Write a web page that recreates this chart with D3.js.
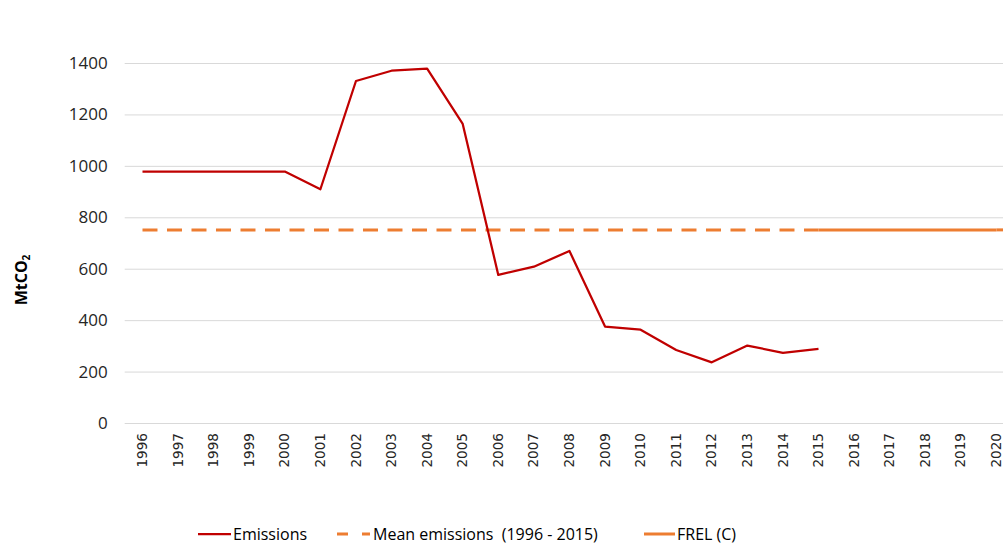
<!DOCTYPE html>
<html>
<head>
<meta charset="utf-8">
<script src="https://cdn.jsdelivr.net/npm/d3@7"></script>
<style>
  html, body { margin: 0; padding: 0; background: #fff; overflow: hidden; }
  svg { display: block; }
</style>
</head>
<body>
<svg id="chart" width="1003" height="544"></svg>
<script>
// ---- data ----
const years = ["1996","1997","1998","1999","2000","2001","2002","2003","2004","2005","2006","2007","2008","2009","2010","2011","2012","2013","2014","2015","2016","2017","2018","2019","2020"];
const emissionYears = years.slice(0, 20);
const emissions = [978, 978, 978, 978, 978, 909, 1330, 1370, 1378, 1163, 576, 608, 669, 375, 363, 284, 236, 301, 273, 288];
const meanYears = years.slice(0, 20);
const meanEmissions = [751, 751, 751, 751, 751, 751, 751, 751, 751, 751, 751, 751, 751, 751, 751, 751, 751, 751, 751, 751];
const frelYears = ["2015","2016","2017","2018","2019","2020"];
const frel = [751, 751, 751, 751, 751, 751];
const yTicks = [0, 200, 400, 600, 800, 1000, 1200, 1400];
const legendLabels = ["Emissions", "Mean emissions  (1996 - 2015)", "FREL (C)"];

// ---- layout ----
const svg = d3.select("#chart");
const red = "#C00000", orange = "#ED7D31";

const x = d3.scaleBand().domain(years).range([124.7, 1014.2]);
const xc = d => x(d) + x.bandwidth() / 2;
const y = d3.scaleLinear().domain([0, 1400]).range([423, 63]);

// gridlines + y tick labels
const yAxis = d3.axisLeft(y).tickValues(yTicks).tickFormat(d3.format("d"))
  .tickSize(-(1014.2 - 124.7)).tickPadding(17);
const gy = svg.append("g").attr("transform", "translate(124.7,0)").call(yAxis);
gy.select(".domain").remove();
gy.selectAll(".tick line").attr("stroke", "#d9d9d9").attr("stroke-width", 1);
gy.selectAll(".tick text")
  .attr("font-family", "'Open Sans', sans-serif")
  .attr("font-size", "17px")
  .attr("fill", "#262626");

// x axis labels
const xAxis = d3.axisBottom(x).tickSize(0).tickPadding(0);
const gx = svg.append("g").attr("transform", "translate(0,423)").call(xAxis);
gx.select(".domain").remove();
gx.selectAll(".tick text")
  .attr("font-family", "'DejaVu Sans', sans-serif")
  .attr("font-size", "13.6px")
  .attr("fill", "#262626")
  .attr("text-anchor", "end")
  .attr("transform", "rotate(-90)")
  .attr("x", -10)
  .attr("y", 0)
  .attr("dy", "0.34em");

// y title
const yt = svg.append("text")
  .attr("transform", "translate(27,280) rotate(-90)")
  .attr("text-anchor", "middle")
  .attr("font-family", "'Open Sans', sans-serif")
  .attr("font-weight", "bold")
  .attr("font-size", "16px")
  .attr("fill", "#000");
yt.append("tspan").text("MtCO");
yt.append("tspan").attr("font-size", "10px").attr("dy", "3").text("2");

// lines
const line = d3.line().x(d => xc(d[0])).y(d => y(d[1]));

svg.append("path")
  .datum(meanYears.map((yr, i) => [yr, meanEmissions[i]]))
  .attr("d", line)
  .attr("fill", "none")
  .attr("stroke", orange)
  .attr("stroke-width", 3)
  .attr("stroke-dasharray", "15,9.5");

svg.append("path")
  .datum(frelYears.map((yr, i) => [yr, frel[i]]))
  .attr("d", line)
  .attr("fill", "none")
  .attr("stroke", orange)
  .attr("stroke-width", 3);

// FREL continues past the last category to the plot edge
svg.append("line")
  .attr("x1", xc("2020")).attr("x2", 1014.2)
  .attr("y1", y(frel[frel.length - 1])).attr("y2", y(frel[frel.length - 1]))
  .attr("stroke", orange).attr("stroke-width", 3);

svg.append("path")
  .datum(emissionYears.map((yr, i) => [yr, emissions[i]]))
  .attr("d", line)
  .attr("fill", "none")
  .attr("stroke", red)
  .attr("stroke-width", 2.25)
  .attr("stroke-linejoin", "round");

// legend
const legY = 534;
const leg = svg.append("g")
  .attr("font-family", "'Open Sans', sans-serif")
  .attr("font-size", "16px")
  .attr("fill", "#000");

leg.append("line").attr("x1", 198).attr("x2", 231).attr("y1", legY).attr("y2", legY)
  .attr("stroke", red).attr("stroke-width", 2.25);
leg.append("text").attr("x", 233).attr("y", legY).attr("dy", "0.35em").text(legendLabels[0]);

leg.append("line").attr("x1", 337).attr("x2", 370).attr("y1", legY).attr("y2", legY)
  .attr("stroke", orange).attr("stroke-width", 3).attr("stroke-dasharray", "11,14");
leg.append("text").attr("x", 373).attr("y", legY).attr("dy", "0.35em")
  .style("white-space", "pre").text(legendLabels[1]);

leg.append("line").attr("x1", 644).attr("x2", 675).attr("y1", legY).attr("y2", legY)
  .attr("stroke", orange).attr("stroke-width", 3);
leg.append("text").attr("x", 677).attr("y", legY).attr("dy", "0.35em").text(legendLabels[2]);
</script>
</body>
</html>
